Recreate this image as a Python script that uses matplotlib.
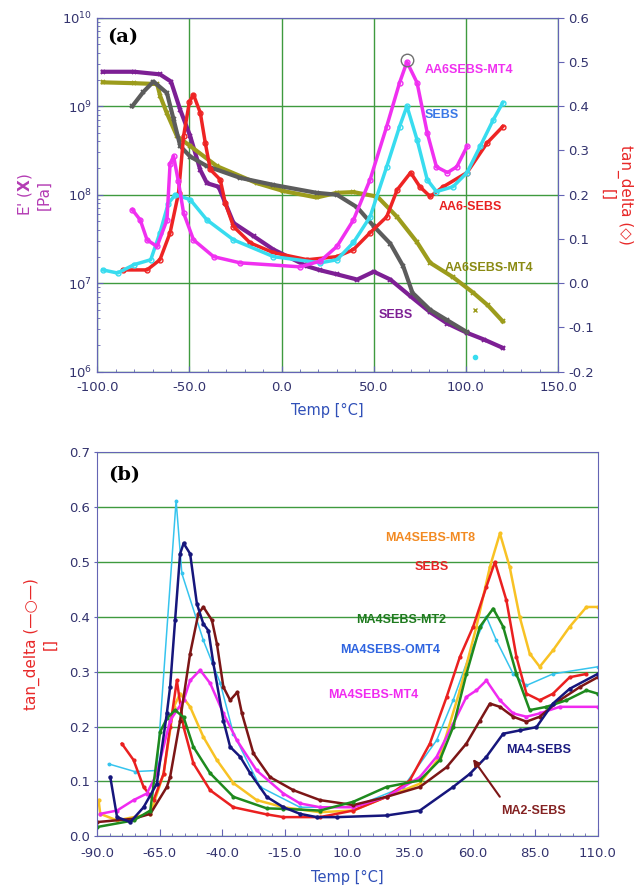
import matplotlib
matplotlib.use("Agg")
import numpy as np
import matplotlib.pyplot as plt
from matplotlib.ticker import LogLocator, FormatStrFormatter, MultipleLocator, FixedLocator, NullFormatter

# ---------------- panel (a): E' (left, log) ----------------
sebs_E_T = [-97, -80, -66, -60, -55, -49.6, -44.1, -40.5, -34.2, -30.6, -26.1, -15.2, -4.4, 14,
            21, 30, 41, 50, 59, 70, 80.6, 90, 100.6, 110, 120]
sebs_E = [2.45e9, 2.45e9, 2.29e9, 1.9e9, 9.1e8, 4.6e8, 1.9e8, 1.35e8, 1.23e8, 8.1e7, 4.8e7, 3.4e7,
          2.4e7, 1.55e7, 1.4e7, 1.26e7, 1.1e7, 1.35e7, 1.1e7, 7.1e6, 4.7e6, 3.5e6, 2.75e6, 2.3e6, 1.86e6]

aa6_E_T = [-81, -75, -69.5, -62.2, -58.6, -55, -49.6, -40.5, -22.5, -4.4, 19, 30, 41, 50,
           59, 66, 71, 80.6, 90, 100.6]
aa6_E = [1.0e9, 1.45e9, 1.9e9, 1.41e9, 7.1e8, 3.55e8, 2.7e8, 2.1e8, 1.55e8, 1.29e8, 1.05e8, 1.0e8,
         7.2e7, 4.4e7, 2.8e7, 1.55e7, 7.8e6, 5.0e6, 3.8e6, 2.8e6]

mt4_E_T = [-97, -80, -67.5, -65.8, -62.2, -56.8, -49.6, -35.1, -13.4, 1, 19, 30, 39, 52, 62.7,
           73.5, 80.6, 93, 104, 112, 120]
mt4_E = [1.86e9, 1.82e9, 1.78e9, 1.29e9, 8.3e8, 4.6e8, 3.55e8, 2.1e8, 1.35e8, 1.1e8, 9.3e7, 1.05e8,
         1.07e8, 9.5e7, 5.6e7, 2.9e7, 1.7e7, 1.17e7, 7.8e6, 5.6e6, 3.7e6]
mt4_E_out_T = [105]
mt4_E_out = [5.0e6]

# ---------------- panel (a): tan delta (right) ----------------
mt4_tan_T = [-81, -76.7, -73, -67.6, -62.2, -60.5, -58.6, -56, -53.2, -47.8, -36.9, -22.5, 10, 21,
             30, 39, 48, 57, 64, 68, 73.5, 79, 84, 90, 95, 100.6]
mt4_tan = [0.166, 0.143, 0.098, 0.083, 0.143, 0.27, 0.287, 0.23, 0.159, 0.098, 0.06, 0.046, 0.037,
           0.05, 0.083, 0.143, 0.234, 0.354, 0.453, 0.50, 0.453, 0.34, 0.263, 0.25, 0.263, 0.309]

sebs_tan_T = [-97, -89, -80, -71, -66, -61.5, -57.7, -49.6, -40.5, -26.1, -4.4, 21, 30, 39, 48,
              57, 64, 68, 73.5, 79, 84, 93, 100.6, 107.7, 114.8, 120]
sebs_tan = [0.03, 0.023, 0.042, 0.053, 0.114, 0.18, 0.2, 0.189, 0.143, 0.098, 0.06, 0.046, 0.053,
            0.092, 0.15, 0.263, 0.354, 0.40, 0.324, 0.234, 0.207, 0.218, 0.25, 0.309, 0.369, 0.408]
sebs_tan_out_T = [105]
sebs_tan_out = [-0.166]

aa6_tan_T = [-86, -73, -66, -60.5, -55.9, -53.2, -50, -47.8, -44.1, -41.4, -38.7, -33.3, -30.6,
             -26.1, -17, -4.4, 14, 30, 39, 48, 57, 62.7, 70, 75, 80.6, 87.7, 100.6, 111.5, 120]
aa6_tan = [0.03, 0.03, 0.053, 0.114, 0.204, 0.332, 0.41, 0.426, 0.385, 0.317, 0.257, 0.234, 0.182,
           0.128, 0.091, 0.069, 0.053, 0.06, 0.076, 0.114, 0.15, 0.211, 0.25, 0.218, 0.196, 0.218,
           0.25, 0.317, 0.354]

# ---------------- panel (b): tan delta ----------------
omt4_T = [-85.5, -75, -66.2, -58.5, -56.2, -47.6, -40.9, -35.6, -24.9, -9, -1, 12.3, 32.3,
          45.6, 52.2, 58.9, 65.5, 69.5, 76.2, 81.5, 92.1, 110]
omt4 = [0.132, 0.118, 0.12, 0.612, 0.479, 0.357, 0.28, 0.187, 0.09, 0.053, 0.053, 0.053,
        0.09, 0.175, 0.248, 0.333, 0.40, 0.357, 0.296, 0.275, 0.296, 0.309]

ma4_T = [-84.8, -82.1, -76.8, -71.5, -66.2, -62.2, -60.9, -58.9, -56.9, -55.5, -52.9, -50.2, -47.6,
         -45.6, -43.6, -39.6, -36.9, -32.9, -28.9, -22.3, -15.6, -9, -2.3, 5.7, 25.6, 38.9, 52.2,
         58.9, 65.5, 72.2, 78.8, 85.5, 92.1, 98.8, 110]
ma4 = [0.108, 0.035, 0.026, 0.053, 0.096, 0.224, 0.272, 0.394, 0.515, 0.534, 0.515, 0.424, 0.387,
       0.375, 0.315, 0.211, 0.163, 0.145, 0.115, 0.072, 0.053, 0.041, 0.035, 0.035, 0.038, 0.047,
       0.09, 0.114, 0.145, 0.187, 0.193, 0.199, 0.242, 0.269, 0.296]

ma2_T = [-90, -75.5, -68.8, -62.2, -60.9, -56.9, -52.9, -49.6, -47.6, -44.2, -42.2, -39.6, -36.9,
         -34, -32.2, -27.6, -21, -11.6, -1, 12.3, 25.6, 38.9, 49.6, 57.5, 62.9, 66.9, 70.9, 76.2,
         81.5, 86.8, 94.8, 102.8, 110]
ma2 = [0.026, 0.032, 0.041, 0.09, 0.108, 0.211, 0.333, 0.406, 0.418, 0.394, 0.351, 0.272, 0.248,
       0.263, 0.224, 0.151, 0.108, 0.084, 0.066, 0.057, 0.072, 0.09, 0.126, 0.169, 0.211, 0.242,
       0.236, 0.218, 0.209, 0.218, 0.248, 0.272, 0.29]

mt4b_T = [-88.8, -82.1, -75.5, -70.2, -66.2, -60.9, -55.5, -52.9, -48.9, -44.9, -39.6, -34.2,
          -26.3, -15.6, -9, -1, 12.3, 25.6, 38.9, 45.6, 52.2, 57.5, 61.5, 65.5, 70.9, 76.2, 81.5,
          86.8, 94.8, 110]
mt4b = [0.041, 0.047, 0.066, 0.078, 0.114, 0.211, 0.248, 0.284, 0.303, 0.279, 0.224, 0.175, 0.12,
        0.078, 0.06, 0.053, 0.053, 0.072, 0.108, 0.145, 0.205, 0.254, 0.266, 0.284, 0.248, 0.224,
        0.218, 0.224, 0.236, 0.236]

mt8_T = [-89.5, -88.8, -82.1, -68.8, -63.5, -59.5, -56.9, -52.9, -47.6, -42.2, -35.6, -26.3, -15.6,
         -1, 12.3, 25.6, 38.9, 46.9, 54.9, 61.5, 66.9, 70.9, 74.8, 78.8, 82.8, 86.8, 92.1, 98.8,
         105.5, 110]
mt8 = [0.066, 0.041, 0.029, 0.041, 0.114, 0.235, 0.26, 0.236, 0.181, 0.139, 0.097, 0.066, 0.053,
       0.044, 0.047, 0.072, 0.096, 0.145, 0.266, 0.382, 0.491, 0.552, 0.491, 0.40, 0.333, 0.309,
       0.339, 0.382, 0.418, 0.418]

sebsb_T = [-80.2, -75.5, -71.5, -67.5, -63.5, -60.9, -58.2, -55.5, -51.6, -44.9, -35.6, -22.3,
           -15.6, -1, 12.3, 25.6, 34.9, 42.9, 49.6, 54.9, 60.2, 65.5, 68.9, 73.5, 77.5, 81.5, 86.8,
           92.1, 98.8, 105.5]
sebsb = [0.169, 0.139, 0.09, 0.066, 0.114, 0.199, 0.284, 0.199, 0.133, 0.084, 0.053, 0.04, 0.035,
         0.035, 0.047, 0.072, 0.102, 0.169, 0.254, 0.327, 0.382, 0.455, 0.50, 0.43, 0.327, 0.26,
         0.248, 0.26, 0.29, 0.296]

mt2_T = [-90, -75.5, -68.8, -64.9, -62.2, -58.9, -55.5, -51.6, -44.9, -35.6, -22.3, -15.6, -1, 12.3,
         25.6, 38.9, 46.9, 52.2, 57.5, 62.9, 68.2, 72.2, 77.5, 82.8, 89.5, 97.5, 105.5, 110]
mt2 = [0.017, 0.029, 0.047, 0.19, 0.215, 0.23, 0.217, 0.163, 0.115, 0.072, 0.051, 0.05, 0.047,
       0.063, 0.09, 0.102, 0.139, 0.199, 0.296, 0.382, 0.415, 0.382, 0.296, 0.23, 0.236, 0.248,
       0.266, 0.26]

spine_col = "#6464b4"
tick_col = "#33336e"
grid_col = "#3f9a3f"

fig = plt.figure(figsize=(6.4, 8.85), dpi=100)

# ================= panel (a) =================
ax1 = fig.add_axes([0.152, 0.580, 0.720, 0.400])
ax1r = ax1.twinx()

ax1.plot(sebs_E_T, sebs_E, color="#7d1f94", lw=3, marker="x", ms=3.5, mew=1.3)
ax1.plot(mt4_E_T, mt4_E, color="#9c9c1c", lw=3, marker="x", ms=3.5, mew=1.3)
ax1.plot(aa6_E_T, aa6_E, color="#5c5c5c", lw=3, marker="x", ms=3.5, mew=1.3)
ax1.plot(mt4_E_out_T, mt4_E_out, ls="none", color="#9c9c1c", marker="x", ms=3)

ax1r.plot(aa6_tan_T, aa6_tan, color="#ee2424", lw=2.5, marker="o", ms=3.5, mfc="none", mew=1)
ax1r.plot(sebs_tan_T, sebs_tan, color="#38dcef", lw=2.5, marker="o", ms=3.5, mfc="none", mew=1)
ax1r.plot(mt4_tan_T, mt4_tan, color="#f030f0", lw=2.5, marker="o", ms=3.5, mfc="none", mew=1)
ax1r.plot(sebs_tan_out_T, sebs_tan_out, ls="none", color="#38dcef", marker="o", ms=3)
ax1r.plot([68], [0.505], ls="none", marker="o", ms=9, mfc="none", mec="#707070", mew=1)

ax1.set_xlim(-100, 150)
ax1.set_yscale("log")
ax1.set_ylim(1e6, 1e10)
ax1r.set_ylim(-0.2, 0.6)
ax1.xaxis.set_major_locator(MultipleLocator(50))
ax1.xaxis.set_minor_locator(MultipleLocator(10))
ax1.xaxis.set_major_formatter(FormatStrFormatter("%.1f"))
ax1.yaxis.set_major_locator(LogLocator(base=10))
ax1.yaxis.set_minor_locator(LogLocator(base=10, subs=np.arange(2, 10)))
ax1.yaxis.set_minor_formatter(NullFormatter())
ax1r.yaxis.set_major_locator(MultipleLocator(0.1))
ax1r.yaxis.set_major_formatter(FormatStrFormatter("%.1f"))

ax1.grid(True, which="major", color=grid_col, lw=1)
ax1.set_axisbelow(True)
for a in (ax1, ax1r):
    for s in a.spines.values():
        s.set_color(spine_col)
ax1.tick_params(axis="both", which="both", direction="in", colors=spine_col,
                labelcolor=tick_col, labelsize=9.5)
ax1.tick_params(which="major", length=4)
ax1.tick_params(which="minor", length=2.5)
ax1.tick_params(axis="x", pad=7)
ax1r.tick_params(axis="y", direction="out", colors=spine_col, labelcolor=tick_col,
                 labelsize=9.5, length=4)

ax1.set_xlabel("Temp [°C]", color="#3050b8", fontsize=10.5, labelpad=6)
ax1.set_ylabel("E' ($\\mathbf{X}$)\n[Pa]", color="#b43cb4", fontsize=11, labelpad=8)
ax1r.set_ylabel("tan_delta (◇)\n[]", color="#e82828", fontsize=11, rotation=270, labelpad=28)

ax1.text(0.022, 0.945, "(a)", transform=ax1.transAxes, fontsize=14, fontweight="bold",
         family="DejaVu Serif", va="center")

lab = dict(family="Liberation Sans", fontweight="bold", fontsize=9, va="center")
ax1r.text(77.5, 0.482, "AA6SEBS-MT4", color="#f030f0", **lab)
ax1r.text(77.5, 0.381, "SEBS", color="#3a78e6", **lab)
ax1r.text(85, 0.173, "AA6-SEBS", color="#e82020", **lab)
ax1r.text(88.5, 0.035, "AA6SEBS-MT4", color="#8a8a12", **lab)
ax1r.text(52.5, -0.071, "SEBS", color="#7d1f94", **lab)

# ================= panel (b) =================
ax2 = fig.add_axes([0.152, 0.055, 0.782, 0.434])

ax2.plot(omt4_T, omt4, color="#36c4ee", lw=1.1, marker="o", ms=1.8)
ax2.plot(mt8_T, mt8, color="#f8c224", lw=1.8, marker="o", ms=2)
ax2.plot(sebsb_T, sebsb, color="#ea2020", lw=1.8, marker="o", ms=2)
ax2.plot(mt4b_T, mt4b, color="#f02af0", lw=1.8, marker="o", ms=2)
ax2.plot(ma2_T, ma2, color="#7c1616", lw=1.8, marker="o", ms=2)
ax2.plot(mt2_T, mt2, color="#1e8a1e", lw=1.8, marker="o", ms=2)
ax2.plot(ma4_T, ma4, color="#16167c", lw=1.8, marker="o", ms=2.2)

ax2.set_xlim(-90, 110)
ax2.set_ylim(0, 0.7)
ax2.xaxis.set_major_locator(FixedLocator(np.arange(-90, 111, 25)))
ax2.xaxis.set_minor_locator(FixedLocator(np.arange(-90, 111, 5)))
ax2.xaxis.set_major_formatter(FormatStrFormatter("%.1f"))
ax2.yaxis.set_major_locator(MultipleLocator(0.1))
ax2.yaxis.set_major_formatter(FormatStrFormatter("%.1f"))
ax2.grid(True, axis="y", color=grid_col, lw=1)
ax2.set_axisbelow(True)
for s in ax2.spines.values():
    s.set_color(spine_col)
ax2.tick_params(axis="x", which="both", direction="in", colors=spine_col,
                labelcolor=tick_col, labelsize=9.5, pad=8)
ax2.tick_params(axis="x", which="major", length=5)
ax2.tick_params(axis="x", which="minor", length=2.5)
ax2.tick_params(axis="y", direction="out", colors=spine_col, labelcolor=tick_col,
                labelsize=9.5, length=2)

ax2.set_xlabel("Temp [°C]", color="#3050b8", fontsize=10.5, labelpad=7)
ax2.set_ylabel("tan_delta (—○—)\n[]", color="#e82828", fontsize=11, labelpad=8)

ax2.text(0.022, 0.94, "(b)", transform=ax2.transAxes, fontsize=14, fontweight="bold",
         family="DejaVu Serif", va="center")

ax2.text(25, 0.543, "MA4SEBS-MT8", color="#f28a22", **lab)
ax2.text(37, 0.491, "SEBS", color="#e42424", **lab)
ax2.text(13.6, 0.394, "MA4SEBS-MT2", color="#1e7a1e", **lab)
ax2.text(7, 0.339, "MA4SEBS-OMT4", color="#2e64e0", **lab)
ax2.text(2.3, 0.257, "MA4SEBS-MT4", color="#f02af0", **lab)
ax2.text(73.5, 0.157, "MA4-SEBS", color="#1a1a80", **lab)
ax2.text(71.5, 0.047, "MA2-SEBS", color="#842222", **lab)
ax2.annotate("", xy=(59.5, 0.145), xytext=(71.5, 0.068),
             arrowprops=dict(arrowstyle="-|>", color="#7c1616", lw=1.5, mutation_scale=10))

fig.savefig("out.png", dpi=100)
